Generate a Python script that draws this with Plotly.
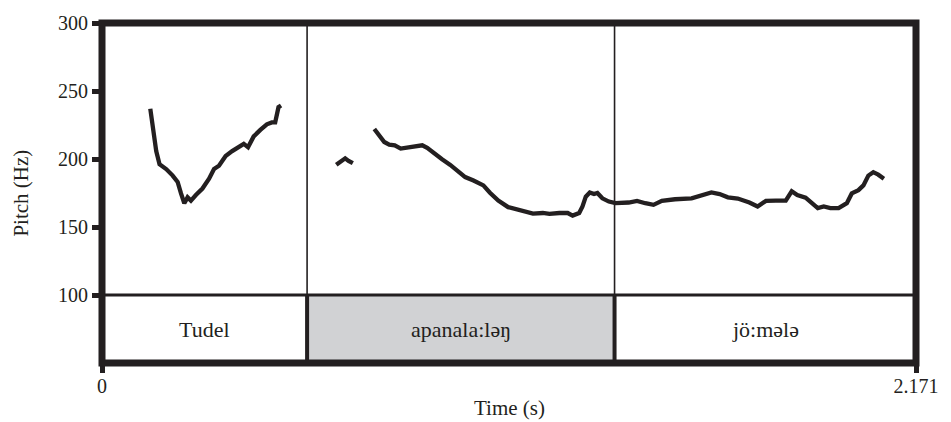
import plotly.graph_objects as go

# ---- data ----
seg1_t = [0.1288, 0.1401, 0.1446, 0.1534, 0.1711, 0.1885, 0.2017, 0.2107, 0.2195, 0.2282,
          0.2372, 0.2504, 0.2679, 0.2856, 0.2988, 0.3120, 0.3297, 0.3472, 0.3649, 0.3781,
          0.3895, 0.4046, 0.4223, 0.4397, 0.4529, 0.4619, 0.4707, 0.4775]
seg1_hz = [236.9, 217.8, 205.8, 196.1, 192.6, 187.8, 183.1, 174.7, 167.5, 171.8,
           169.4, 173.5, 178.3, 185.5, 192.6, 195.0, 202.2, 205.8, 209.4, 211.1,
           208.7, 216.6, 221.4, 225.5, 226.9, 226.9, 238.1, 239.3]

seg2_t = [0.6248, 0.6380, 0.6486, 0.6576, 0.6690]
seg2_hz = [195.7, 198.6, 200.5, 198.6, 196.9]

seg3_t = [0.7263, 0.7395, 0.7528, 0.7660, 0.7808, 0.7967, 0.8144, 0.8364, 0.8541, 0.8673,
          0.8850, 0.9069, 0.9289, 0.9466, 0.9686, 0.9908, 1.0172, 1.0347, 1.0569, 1.0833,
          1.1140, 1.1494, 1.1758, 1.1933, 1.2197, 1.2420, 1.2552, 1.2727, 1.2815, 1.2903,
          1.3009, 1.3123, 1.3213, 1.3345, 1.3519, 1.3696, 1.4048, 1.4270, 1.4490, 1.4709,
          1.4931, 1.5283, 1.5725, 1.5989, 1.6253, 1.6473, 1.6692, 1.6957, 1.7266, 1.7485,
          1.7707, 1.7972, 1.8236, 1.8395, 1.8543, 1.8765, 1.8940, 1.9091, 1.9249, 1.9426,
          1.9646, 1.9865, 1.9997, 2.0175, 2.0307, 2.0439, 2.0571, 2.0703, 2.0854]
seg3_hz = [222.1, 217.8, 212.5, 210.6, 210.1, 207.7, 208.2, 208.9, 210.1, 208.2,
           204.1, 199.8, 195.7, 191.9, 186.7, 184.2, 180.6, 175.2, 169.4, 164.6,
           162.0, 159.8, 160.3, 159.6, 160.3, 160.3, 158.4, 160.3, 165.1, 172.3,
           175.4, 174.2, 175.0, 171.1, 168.7, 167.5, 168.0, 169.2, 167.5, 166.3,
           169.2, 170.4, 171.1, 173.5, 175.4, 174.2, 171.8, 170.9, 168.0, 165.1,
           169.2, 169.4, 169.4, 176.3, 173.5, 171.6, 167.5, 163.9, 165.1, 163.9,
           163.9, 167.5, 174.7, 177.1, 180.6, 187.8, 190.3, 188.5, 185.5]

boundaries = [0.0, 0.547, 1.367, 2.171]
tier_labels = ["Tudel", "apanala:ləŋ", "jö:mələ"]
tier_fills = ["rgba(0,0,0,0)", "#d1d2d4", "rgba(0,0,0,0)"]

y_ticks = [100, 150, 200, 250, 300]
x_ticks = [0, 2.171]
x_ticktext = ["0", "2.171"]

t_max = 2.171
y_min, y_max = 50, 300
tier_top = 100

INK = "#231f20"
FONT = "Liberation Serif, Times New Roman, serif"

fig = go.Figure()
for tt, hh in [(seg1_t, seg1_hz), (seg2_t, seg2_hz), (seg3_t, seg3_hz)]:
    fig.add_trace(go.Scatter(x=tt, y=hh, mode="lines",
                             line=dict(color=INK, width=4.3), hoverinfo="skip",
                             showlegend=False))

shapes = []
for i, fc in enumerate(tier_fills):
    shapes.append(dict(type="rect", xref="x", yref="y", x0=boundaries[i], x1=boundaries[i + 1],
                       y0=y_min, y1=tier_top, fillcolor=fc, line=dict(width=0), layer="below"))
shapes.append(dict(type="line", xref="paper", yref="y", x0=0, x1=1, y0=tier_top, y1=tier_top,
                   line=dict(color=INK, width=3)))
for b in boundaries[1:-1]:
    shapes.append(dict(type="line", xref="x", yref="y", x0=b, x1=b, y0=tier_top, y1=y_max,
                       line=dict(color=INK, width=1.6)))
    shapes.append(dict(type="line", xref="x", yref="y", x0=b, x1=b, y0=y_min, y1=tier_top,
                       line=dict(color=INK, width=4)))
shapes.append(dict(type="rect", xref="paper", yref="paper", x0=0, x1=1, y0=0, y1=1,
                   line=dict(color=INK, width=7), fillcolor="rgba(0,0,0,0)"))

annotations = []
for i, lab in enumerate(tier_labels):
    annotations.append(dict(x=(boundaries[i] + boundaries[i + 1]) / 2, y=(y_min + tier_top) / 2,
                            xref="x", yref="y", text=lab, showarrow=False,
                            xanchor="center", yanchor="middle",
                            font=dict(family=FONT, size=22, color=INK)))
annotations.append(dict(x=-0.1, y=0.5, xref="paper", yref="paper", text="Pitch (Hz)",
                        textangle=-90, showarrow=False, xanchor="center", yanchor="middle",
                        font=dict(family=FONT, size=21, color=INK)))
annotations.append(dict(x=0.5, y=-0.132, xref="paper", yref="paper", text="Time (s)",
                        showarrow=False, xanchor="center", yanchor="middle",
                        font=dict(family=FONT, size=21, color=INK)))

fig.update_layout(
    width=951, height=422,
    margin=dict(l=102, r=28, t=16, b=59),
    paper_bgcolor="white", plot_bgcolor="white",
    shapes=shapes, annotations=annotations,
    xaxis=dict(range=[0, t_max], tickvals=x_ticks, ticktext=x_ticktext, showgrid=False,
               zeroline=False, showline=False, ticks="outside", ticklen=9, tickwidth=5,
               tickcolor=INK, ticklabelstandoff=-4,
               tickfont=dict(family=FONT, size=20, color=INK)),
    yaxis=dict(range=[y_min, y_max], tickvals=y_ticks, showgrid=False, zeroline=False,
               showline=False, ticks="outside", ticklen=9, tickwidth=5, tickcolor=INK,
               tickfont=dict(family=FONT, size=20, color=INK)),
)

fig.write_html("out.html", config={"displayModeBar": False},
               post_script="document.body.style.margin='0px';document.body.style.overflow='hidden';")
